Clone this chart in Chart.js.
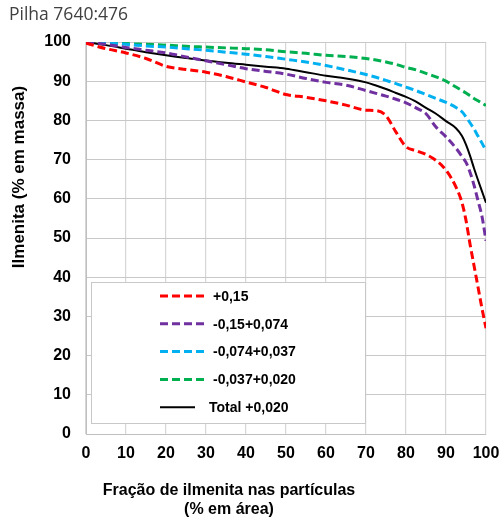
<!DOCTYPE html>
<html>
<head>
<meta charset="utf-8">
<script src="https://cdn.jsdelivr.net/npm/chart.js@4.4.1/dist/chart.umd.min.js"></script>
<style>
  html, body { margin: 0; padding: 0; background: #fff; }
  #wrap { width: 503px; height: 525px; position: relative; }
</style>
</head>
<body>
<div id="wrap"><canvas id="curvaChart"></canvas></div>
<script>
// Fração de ilmenita nas partículas (% em área)
const fracArea = [0, 5, 10, 15, 20, 25, 30, 35, 40, 45, 50, 55, 60, 65, 70, 72.5, 75, 77.5, 80, 82.5, 85, 87.5, 90, 92.5, 94, 95, 96, 97, 98, 99, 100];

// Ilmenita acumulada (% em massa) por faixa granulométrica
const faixa015 = [99.7, 98.3, 97.2, 95.8, 93.8, 93.0, 92.3, 91.2, 89.8, 88.4, 86.6, 85.9, 85.0, 83.9, 82.6, 82.5, 81.2, 77.0, 73.3, 72.3, 71.3, 69.8, 67.3, 63.0, 59.0, 54.5, 48.5, 43.0, 37.5, 32.0, 27.0];
const faixa015_074 = [100, 99.4, 98.6, 97.9, 97.2, 96.2, 95.2, 94.2, 93.2, 92.5, 91.8, 90.7, 89.7, 89.0, 87.6, 86.9, 86.2, 85.4, 84.5, 83.2, 81.7, 78.3, 75.8, 72.9, 70.8, 69.3, 66.8, 63.5, 59.5, 55.5, 49.3];
const faixa074_037 = [100, 99.7, 99.4, 99.0, 98.7, 98.3, 97.9, 97.4, 96.9, 96.3, 95.6, 94.9, 94.0, 92.9, 91.7, 91.0, 90.2, 89.4, 88.5, 87.6, 86.6, 85.6, 84.6, 83.3, 82.2, 80.9, 79.4, 77.8, 76.0, 74.2, 72.3];
const faixa037_020 = [100, 99.8, 99.6, 99.4, 99.2, 98.9, 98.7, 98.5, 98.3, 98.0, 97.5, 97.1, 96.6, 96.3, 95.8, 95.4, 94.9, 94.3, 93.5, 92.9, 92.0, 91.1, 90.0, 88.5, 87.6, 87.0, 86.3, 85.6, 85.0, 84.4, 83.8];
const totalFaixa = [100, 99.2, 98.3, 97.4, 96.6, 95.9, 95.3, 94.7, 94.2, 93.7, 93.2, 92.3, 91.4, 90.7, 89.7, 88.9, 88.0, 87.0, 86.0, 84.8, 83.2, 81.7, 79.8, 78.0, 76.0, 73.8, 71.0, 67.8, 64.8, 61.9, 59.0];

const seriesLabels = ['+0,15', '-0,15+0,074', '-0,074+0,037', '-0,037+0,020', 'Total +0,020'];
const seriesColors = ['#ff0000', '#7030a0', '#00b0f0', '#00b050', '#000000'];
const seriesValues = [faixa015, faixa015_074, faixa074_037, faixa037_020, totalFaixa];

const chartTitle = 'Pilha 7640:476';
const xTitle = ['Fração de ilmenita nas partículas', '(% em área)'];
const yTitle = 'Ilmenita (% em massa)';

const BOLD = 'bold 16px "Liberation Sans", Arial, sans-serif';

function toPoints(values) {
    return values.map((v, i) => ({ x: fracArea[i], y: v }));
}

const datasets = seriesValues.map((vals, i) => {
    const solid = i === 4;
    return {
        label: seriesLabels[i],
        data: toPoints(vals),
        borderColor: seriesColors[i],
        backgroundColor: seriesColors[i],
        borderWidth: solid ? 2 : 3,
        borderDash: solid ? [] : [8, 4],
        pointRadius: 0,
        cubicInterpolationMode: 'monotone',
        fill: false
    };
});

// Texts outside the axes and the boxed legend in the lower-left of the plot
const decorations = {
    id: 'decorations',
    afterDatasetsDraw(chart) {
        const ctx = chart.ctx;
        ctx.save();

        // legend box
        const bx = 91, by = 282, bw = 274, bh = 141;
        ctx.fillStyle = '#ffffff';
        ctx.fillRect(bx, by, bw, bh);
        ctx.strokeStyle = '#c8c8c8';
        ctx.lineWidth = 1;
        ctx.strokeRect(bx + 0.5, by + 0.5, bw, bh);

        ctx.font = 'bold 14px "Liberation Sans", Arial, sans-serif';
        ctx.textBaseline = 'middle';
        ctx.textAlign = 'left';
        chart.data.datasets.forEach((ds, i) => {
            const y = 296 + i * 27.8;
            const solid = ds.borderDash.length === 0;
            ctx.strokeStyle = ds.borderColor;
            ctx.lineWidth = ds.borderWidth;
            ctx.setLineDash(ds.borderDash);
            ctx.beginPath();
            ctx.moveTo(160, y);
            ctx.lineTo(solid ? 195 : 207, y);
            ctx.stroke();
            ctx.setLineDash([]);
            ctx.fillStyle = '#000';
            ctx.fillText(ds.label, solid ? 209 : 213, y + 1);
        });
        ctx.restore();
    },
    afterDraw(chart) {
        const ctx = chart.ctx;
        ctx.save();
        ctx.fillStyle = '#404040';
        ctx.font = '17.5px "Open Sans", "Noto Sans", sans-serif';
        ctx.textBaseline = 'middle';
        ctx.textAlign = 'left';
        ctx.fillText(chartTitle, 9, 15);

        ctx.fillStyle = '#000';
        ctx.font = BOLD;
        ctx.textAlign = 'center';
        ctx.fillText(xTitle[0], 229, 491);
        ctx.fillText(xTitle[1], 229, 510);

        ctx.translate(19, 177);
        ctx.rotate(-Math.PI / 2);
        ctx.font = 'bold 17px "Liberation Sans", Arial, sans-serif';
        ctx.fillText(yTitle, 0, 0);
        ctx.restore();
    }
};

new Chart(document.getElementById('curvaChart'), {
    type: 'line',
    data: { datasets },
    options: {
        responsive: true,
        maintainAspectRatio: false,
        animation: false,
        layout: { padding: { top: 42, right: 17, left: 0, bottom: 0 } },
        plugins: {
            legend: { display: false },
            title: { display: false },
            tooltip: { enabled: false }
        },
        scales: {
            x: {
                type: 'linear',
                min: 0,
                max: 100,
                afterFit: s => {
                    s.height = 91;
                    s.paddingLeft = 0;
                    s.paddingRight = 0;
                },
                ticks: {
                    stepSize: 10,
                    padding: 10,
                    color: '#000',
                    font: { family: '"Liberation Sans", Arial, sans-serif', size: 16, weight: 'bold' }
                },
                grid: { color: '#d6d6d6', lineWidth: 1.2, drawTicks: false },
                border: { color: '#bfbfbf' }
            },
            y: {
                min: 0,
                max: 100,
                afterFit: s => {
                    s.width = 86;
                    s.paddingTop = 0;
                    s.paddingBottom = 0;
                },
                ticks: {
                    stepSize: 10,
                    padding: 15,
                    color: '#000',
                    font: { family: '"Liberation Sans", Arial, sans-serif', size: 16, weight: 'bold' }
                },
                grid: { color: '#c8c8c8', lineWidth: 1, drawTicks: false },
                border: { color: '#bfbfbf' }
            }
        }
    },
    plugins: [decorations]
});
</script>
</body>
</html>
